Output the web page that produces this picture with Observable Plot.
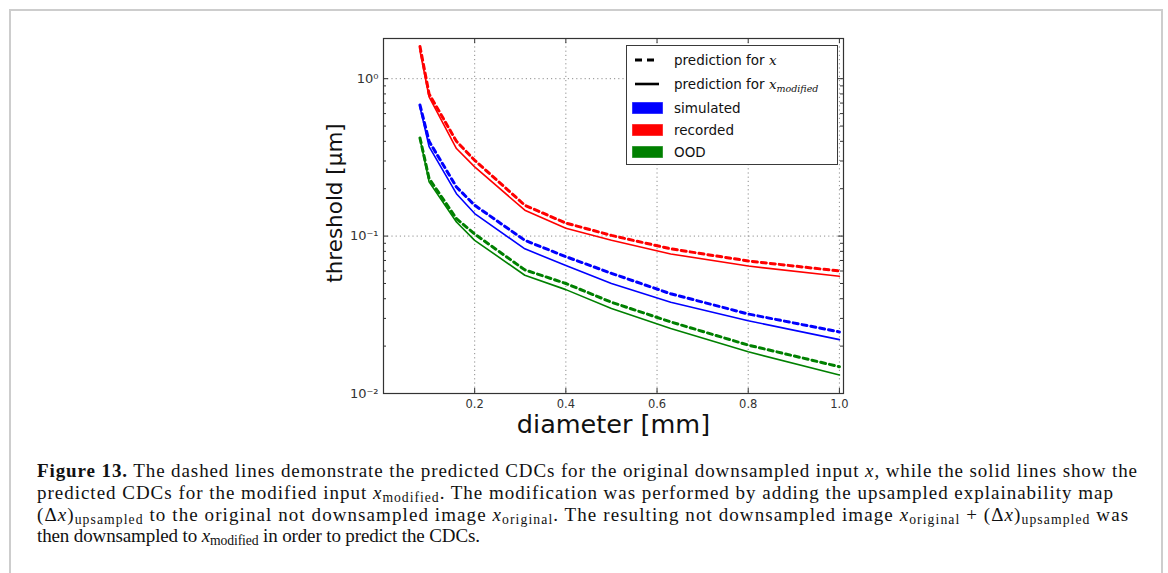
<!DOCTYPE html>
<html>
<head>
<meta charset="utf-8">
<script src="https://cdn.jsdelivr.net/npm/d3@7"></script>
<script src="https://cdn.jsdelivr.net/npm/@observablehq/plot@0.6"></script>
<style>
  html, body { margin: 0; padding: 0; background: #fff; }
  body { width: 1168px; height: 573px; position: relative; overflow: hidden; }
  #frame { position: absolute; left: 9px; top: 9px; width: 1154px; height: 600px; border: 2px solid #cdcdcd; box-sizing: border-box; }
  #chart { position: absolute; left: 0; top: 0; }
  #legend { position: absolute; left: 626px; top: 45px; width: 212px; height: 120px; box-sizing: border-box;
            border: 1.2px solid #3a3a3a; background: #fff; font-family: "DejaVu Sans", sans-serif; font-size: 13.5px; color: #111; }
  .row { position: absolute; left: 0; height: 20px; width: 100%; }
  .row .sw { position: absolute; left: 5px; top: 0; width: 31px; height: 20px; }
  .row .lbl { position: absolute; left: 47px; top: 0; line-height: 20px; white-space: nowrap; }
  .mx { font-family: "DejaVu Serif", serif; font-style: italic; }
  .msub { font-family: "DejaVu Serif", serif; font-style: italic; font-size: 9.5px; position: relative; top: 3px; }
  #caption { position: absolute; left: 37px; top: 0; font-family: "Liberation Serif", serif; font-size: 19px; color: #111; }
  #caption .ln { position: absolute; left: 0; white-space: nowrap; line-height: 20px; }
  .sb { font-size: 0.72em; position: relative; top: 0.22em; line-height: 0; }
</style>
</head>
<body>
<div id="frame"></div>
<div id="chart"></div>
<div id="legend"></div>
<div id="caption"></div>
<script>
// ---- data ----
const diameters = [0.08, 0.10, 0.16, 0.20, 0.31, 0.40, 0.50, 0.63, 0.80, 1.00];
const simulatedDashed = [0.68, 0.40, 0.205, 0.157, 0.094, 0.074, 0.058, 0.043, 0.032, 0.0246];
const simulatedSolid  = [0.66, 0.37, 0.186, 0.139, 0.083, 0.065, 0.050, 0.038, 0.029, 0.022];
const recordedDashed  = [1.60, 0.80, 0.40, 0.303, 0.157, 0.121, 0.101, 0.083, 0.0695, 0.060];
const recordedSolid   = [1.50, 0.765, 0.36, 0.275, 0.146, 0.112, 0.094, 0.077, 0.0645, 0.0556];
const oodDashed       = [0.42, 0.232, 0.129, 0.103, 0.061, 0.050, 0.038, 0.0285, 0.0203, 0.0148];
const oodSolid        = [0.416, 0.221, 0.123, 0.094, 0.0564, 0.0457, 0.0347, 0.0259, 0.0184, 0.0131];
const seriesNames = ["simulated", "recorded", "OOD"];
const seriesColors = ["#0000ff", "#ff0000", "#008000"];
const xTicks = [0.2, 0.4, 0.6, 0.8, 1.0];
const yMajor = [0.01, 0.1, 1];
const yMajorLabels = ["10⁻²", "10⁻¹", "10⁰"];
const yMinor = [2,3,4,5,6,7,8,9].flatMap(m => [m * 0.01, m * 0.1]);

// ---- table ----
const rows = [];
const add = (name, kind, vals) => vals.forEach((v, i) => rows.push({series: name, kind, d: diameters[i], t: v}));
add("simulated", "dashed", simulatedDashed);
add("simulated", "solid", simulatedSolid);
add("recorded", "dashed", recordedDashed);
add("recorded", "solid", recordedSolid);
add("OOD", "dashed", oodDashed);
add("OOD", "solid", oodSolid);
const solid = rows.filter(r => r.kind === "solid");
const dashed = rows.filter(r => r.kind === "dashed");

const W = 1168, H = 445, mL = 383, mR = 325, mT = 38, mB = 52;
const iw = W - mL - mR, ih = H - mT - mB;

const chart = Plot.plot({
  width: W, height: H,
  marginLeft: mL, marginRight: mR, marginTop: mT, marginBottom: mB,
  style: {fontFamily: "DejaVu Sans, sans-serif", fontSize: "11px", color: "#333", background: "transparent"},
  x: {domain: [0, 1.009]},
  y: {type: "log", domain: [0.01, 1.8]},
  color: {domain: seriesNames, range: seriesColors},
  marks: [
    Plot.gridX(xTicks, {stroke: "#000", strokeOpacity: 0.45, strokeDasharray: "1.2,3"}),
    Plot.gridY([1, 0.1], {stroke: "#000", strokeOpacity: 0.45, strokeDasharray: "1.2,3"}),
    Plot.line(solid, {x: "d", y: "t", z: "series", stroke: "series", strokeWidth: 1.6}),
    Plot.line(dashed, {x: "d", y: "t", z: "series", stroke: "series", strokeWidth: 3, strokeDasharray: "5,4"}),
    // inward ticks
    Plot.tickX(xTicks, {x: d => d, insetTop: ih - 5, stroke: "#333"}),
    Plot.tickX(xTicks, {x: d => d, insetBottom: ih - 5, stroke: "#333"}),
    Plot.tickY(yMajor, {y: d => d, insetRight: iw - 5, stroke: "#333"}),
    Plot.tickY(yMajor, {y: d => d, insetLeft: iw - 5, stroke: "#333"}),
    Plot.tickY(yMinor, {y: d => d, insetRight: iw - 3, stroke: "#333"}),
    Plot.tickY(yMinor, {y: d => d, insetLeft: iw - 3, stroke: "#333"}),
    Plot.axisX({ticks: xTicks, tickSize: 0, tickPadding: 6, fontSize: 11.5, tickFormat: d => d.toFixed(1), label: null, fill: "#333"}),
    Plot.axisY({ticks: yMajor, tickSize: 0, tickPadding: 5, fontSize: 13, tickFormat: d => yMajorLabels[yMajor.indexOf(d)], label: null, fill: "#333"}),
    Plot.frame({stroke: "#333", strokeWidth: 1.2}),
    Plot.text(["diameter [mm]"], {frameAnchor: "bottom", dy: 39, fontSize: 25.5, fill: "#111"}),
    Plot.text(["threshold [μm]"], {frameAnchor: "left", textAnchor: "middle", dx: -48, dy: -13, rotate: -90, fontSize: 21.5, fill: "#111"})
  ]
});
document.getElementById("chart").appendChild(chart);

// ---- legend (HTML) ----
const legend = document.getElementById("legend");
const legendRows = [
  {type: "line", dash: "7,5", w: 3, label: 'prediction for <span class="mx">x</span>'},
  {type: "line", dash: null, w: 2.6, label: 'prediction for <span class="mx">x</span><span class="msub">modified</span>'},
  ...seriesNames.map((n, i) => ({type: "patch", color: seriesColors[i], label: n}))
];
const rowTops = [4, 28, 52, 74, 96];
legendRows.forEach((r, i) => {
  const div = document.createElement("div");
  div.className = "row";
  div.style.top = rowTops[i] + "px";
  let sw;
  if (r.type === "line") {
    sw = `<svg class="sw" viewBox="0 0 31 20"><line x1="3" x2="27" y1="10" y2="10" stroke="#000" stroke-width="${r.w}" ${r.dash ? `stroke-dasharray="${r.dash}"` : ""}/></svg>`;
  } else {
    sw = `<svg class="sw" viewBox="0 0 31 20"><rect x="0.5" y="4.5" width="30" height="11" fill="${r.color}" stroke="${r.color}" stroke-opacity="0.6"/></svg>`;
  }
  div.innerHTML = sw + `<span class="lbl">${r.label}</span>`;
  legend.appendChild(div);
});

// ---- caption ----
const capLines = [
  '<b>Figure 13.</b> The dashed lines demonstrate the predicted CDCs for the original downsampled input <i>x</i>, while the solid lines show the',
  'predicted CDCs for the modified input <i>x</i><span class="sb">modified</span>. The modification was performed by adding the upsampled explainability map',
  '(Δ<i>x</i>)<span class="sb">upsampled</span> to the original not downsampled image <i>x</i><span class="sb">original</span>. The resulting not downsampled image <i>x</i><span class="sb">original</span> + (Δ<i>x</i>)<span class="sb">upsampled</span> was',
  'then downsampled to <i>x</i><span class="sb">modified</span> in order to predict the CDCs.'
];
const capTargets = [1100, 1076, 1091, 443];
const capBaselines = [476, 498, 519.5, 541];
const cap = document.getElementById("caption");
capLines.forEach((html, i) => {
  const el = document.createElement("div");
  el.className = "ln";
  el.innerHTML = html;
  el.style.top = (capBaselines[i] - 15) + "px";
  cap.appendChild(el);
  const n = el.textContent.length - 1;
  const w = el.getBoundingClientRect().width;
  el.style.letterSpacing = ((capTargets[i] - w) / n) + "px";
});
</script>
</body>
</html>
